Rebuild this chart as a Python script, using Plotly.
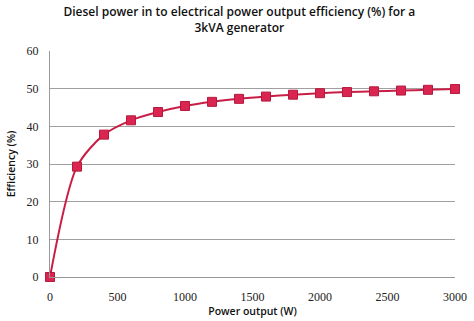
import plotly.graph_objects as go

power_w = [0, 200, 400, 600, 800, 1000, 1200, 1400, 1600, 1800, 2000, 2200, 2400, 2600, 2800, 3000]
efficiency = [0, 29.3, 37.8, 41.6, 43.8, 45.4, 46.5, 47.3, 47.9, 48.4, 48.8, 49.1, 49.3, 49.5, 49.7, 49.9]
x_ticks = [0, 500, 1000, 1500, 2000, 2500, 3000]
y_ticks = [0, 10, 20, 30, 40, 50, 60]

fig = go.Figure()
fig.add_trace(go.Scatter(
    x=power_w, y=efficiency, mode="lines+markers",
    line=dict(color="#C81E45", width=2, shape="spline", smoothing=0.8),
    marker=dict(symbol="square", size=9, color="#D9254F", line=dict(color="#B51A3E", width=1)),
    cliponaxis=False,
))

tickfont = dict(family="Liberation Serif", size=12, color="#222")
fig.update_layout(
    width=474, height=321,
    margin=dict(l=50, r=19, t=51, b=44),
    paper_bgcolor="white", plot_bgcolor="white",
    showlegend=False,
    title=dict(text="Diesel power in to electrical power output efficiency (%) for a<br>3kVA generator",
               x=0.505, xanchor="center", y=0.95, yanchor="top",
               font=dict(family="Open Sans", size=12, color="#111", weight=600)),
    xaxis=dict(range=[0, 3000], tickvals=x_ticks, showgrid=False, showline=True, linecolor="#999",
               linewidth=1, ticks="", tickfont=tickfont, zeroline=False, ticklabelstandoff=9,
               automargin=False,
               title=dict(text="Power output (W)", font=dict(family="Open Sans", size=10.5, color="#111", weight=600), standoff=2)),
    yaxis=dict(range=[0, 60], tickvals=y_ticks, showgrid=True, gridcolor="#A0A0A0", gridwidth=1,
               showline=True, linecolor="#999", linewidth=1, ticks="", tickfont=tickfont, zeroline=False,
               ticklabelstandoff=8, automargin=False,
               title=dict(text="Efficiency (%)", font=dict(family="Open Sans", size=10.5, color="#111", weight=600), standoff=8)),
)

fig.write_html("out.html")
